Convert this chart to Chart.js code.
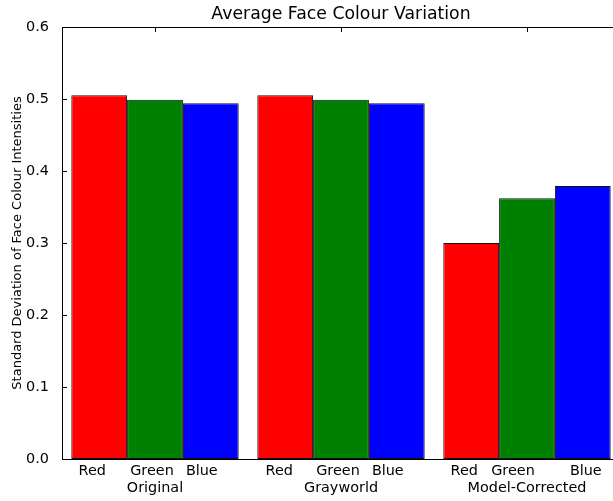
<!DOCTYPE html>
<html>
<head>
<meta charset="utf-8">
<script src="https://cdn.jsdelivr.net/npm/chart.js@4/dist/chart.umd.min.js"></script>
<style>
  html, body { margin: 0; padding: 0; background: #fff; overflow: hidden; width: 613px; height: 501px; }
  canvas { display: block; }
</style>
</head>
<body>
<canvas id="chart" width="630" height="501"></canvas>
<script>
// Groups along the x axis and the colour channel of each bar
const groups = ['Original', 'Grayworld', 'Model-Corrected'];
const channels = ['Red', 'Green', 'Blue'];

// Standard deviation of face colour intensities, one array per channel
const redValues = [0.505, 0.505, 0.300];
const greenValues = [0.499, 0.499, 0.362];
const blueValues = [0.494, 0.494, 0.379];

// Y axis ticks
const yTicks = [0.0, 0.1, 0.2, 0.3, 0.4, 0.5, 0.6];

const channelColours = ['#ff0000', '#008000', '#0000ff'];
const FONT = 'DejaVu Sans';
const TICK_SIZE = 14.4;

// Horizontal nudge (px) of each channel name relative to its bar, per group
const channelLabelNudge = [
  [-7, -3, -9],
  [-6, -3, -9],
  [-7, -14, 3]
];

// Box frame, inward tick marks and the channel names under each bar
const framePlugin = {
  id: 'frame',
  afterDatasetsDraw(chart) {
    const { ctx, chartArea: a, scales } = chart;
    const ys = scales.y, xs = scales.x;
    ctx.save();
    ctx.strokeStyle = '#000';
    ctx.lineWidth = 1;
    ctx.beginPath();
    yTicks.forEach(v => {
      const y = Math.round(ys.getPixelForValue(v)) + 0.5;
      ctx.moveTo(a.left, y); ctx.lineTo(a.left + 5, y);
      ctx.moveTo(a.right, y); ctx.lineTo(a.right - 5, y);
    });
    groups.forEach((g, i) => {
      const x = Math.round(xs.getPixelForTick(i)) + 0.5;
      ctx.moveTo(x, a.top); ctx.lineTo(x, a.top + 5);
    });
    ctx.stroke();
    ctx.strokeRect(Math.round(a.left) + 0.5, Math.round(a.top) + 0.5,
                   Math.round(a.right - a.left), Math.round(a.bottom - a.top));
    ctx.restore();
  },
  afterDraw(chart) {
    const { ctx, scales } = chart;
    const xs = scales.x;
    ctx.save();
    ctx.fillStyle = '#000';
    ctx.font = TICK_SIZE + 'px "' + FONT + '"';
    ctx.textAlign = 'center';
    ctx.textBaseline = 'middle';
    channels.forEach((name, d) => {
      chart.getDatasetMeta(d).data.forEach((bar, g) => {
        ctx.fillText(name, bar.x + channelLabelNudge[g][d], xs.top + 12);
      });
    });
    ctx.restore();
  }
};

const seriesValues = [redValues, greenValues, blueValues];

new Chart(document.getElementById('chart'), {
  type: 'bar',
  data: {
    labels: groups,
    datasets: channels.map((name, i) => ({
      label: name,
      data: seriesValues[i],
      backgroundColor: channelColours[i],
      borderColor: '#111',
      borderWidth: 1,
      borderSkipped: false,
      categoryPercentage: 0.9,
      barPercentage: 1.0
    }))
  },
  options: {
    responsive: false,
    animation: false,
    devicePixelRatio: 1,
    layout: { padding: { left: 0, right: 10, top: 0, bottom: 0 } },
    plugins: {
      legend: { display: false },
      tooltip: { enabled: false },
      title: {
        display: true,
        fullSize: false,
        text: 'Average Face Colour Variation',
        color: '#000',
        font: { family: FONT, size: 17.3, weight: 'normal', lineHeight: 1.2 },
        padding: { top: 4, bottom: 2.2 }
      }
    },
    scales: {
      x: {
        type: 'category',
        grid: { display: false },
        border: { display: false },
        ticks: {
          color: '#000',
          font: { family: FONT, size: TICK_SIZE, lineHeight: 1.2 },
          padding: 13,
          maxRotation: 0,
          autoSkip: false
        },
        afterFit(scale) { scale.height = 42; }
      },
      y: {
        min: 0,
        max: 0.6,
        grid: { display: false },
        border: { display: false },
        afterBuildTicks(scale) { scale.ticks = yTicks.map(v => ({ value: v })); },
        ticks: {
          color: '#000',
          font: { family: FONT, size: TICK_SIZE },
          padding: 5,
          callback: v => Number(v).toFixed(1)
        },
        title: {
          display: true,
          text: 'Standard Deviation of Face Colour Intensities',
          color: '#000',
          font: { family: FONT, size: 13, lineHeight: 1.2 },
          padding: { top: 10, bottom: 0 }
        },
        afterFit(scale) { scale.width = 62; }
      }
    }
  },
  plugins: [framePlugin]
});
</script>
</body>
</html>
